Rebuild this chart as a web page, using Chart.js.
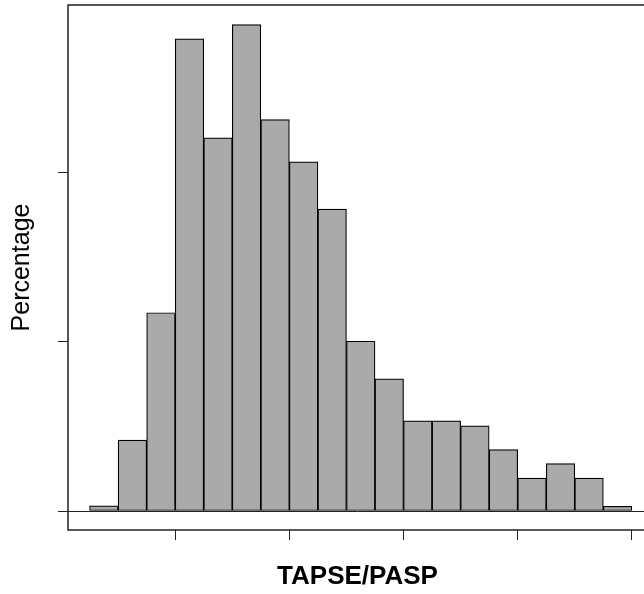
<!DOCTYPE html>
<html>
<head>
<meta charset="utf-8">
<script src="https://cdn.jsdelivr.net/npm/chart.js@4"></script>
<style>
  html, body { margin: 0; padding: 0; overflow: hidden; background: #fff; }
  canvas { display: block; }
</style>
</head>
<body>
<canvas id="myChart" width="650" height="594"></canvas>
<script>
// histogram bins (bin index of each bar's center) and their percentages
let binCenters = [0.5, 1.5, 2.5, 3.5, 4.5, 5.5, 6.5, 7.5, 8.5, 9.5, 10.5, 11.5, 12.5, 13.5, 14.5, 15.5, 16.5, 17.5, 18.5];
let percentages = [0.15, 2.09, 5.85, 13.93, 11.01, 14.35, 11.55, 10.3, 8.91, 5.01, 3.9, 2.66, 2.66, 2.51, 1.81, 0.97, 1.4, 0.97, 0.14];
// axis ticks (no labels shown)
let xTickValues = [3, 7, 11, 15, 19];
let yTickValues = [0, 5, 10];

const boxPlugin = {
  id: "box",
  afterDraw(chart) {
    const { ctx, chartArea } = chart;
    ctx.save();
    ctx.strokeStyle = "#222";
    ctx.lineWidth = 1.5;
    ctx.strokeRect(chartArea.left, chartArea.top, chartArea.right - chartArea.left, chartArea.bottom - chartArea.top);
    ctx.restore();
  },
};

const ctx = document.getElementById("myChart").getContext("2d");
const myChart = new Chart(ctx, {
  type: "bar",
  data: {
    datasets: [
      {
        data: binCenters.map((x, i) => ({ x: x, y: percentages[i] })),
        backgroundColor: "#aaaaaa",
        borderColor: "#000",
        borderWidth: 1.2,
        borderSkipped: false,
        barPercentage: 1,
        categoryPercentage: 1,
      },
    ],
  },
  options: {
    responsive: false,
    animation: false,
    layout: { padding: { top: 5, right: 3, left: 0, bottom: 0 } },
    plugins: { legend: { display: false }, tooltip: { enabled: false } },
    scales: {
      x: {
        type: "linear",
        offset: false,
        min: -0.756,
        max: 19.53,
        afterBuildTicks: (scale) => {
          scale.ticks = xTickValues.map((v) => ({ value: v }));
        },
        afterFit: (scale) => {
          scale.height = 64;
        },
        ticks: { display: false },
        border: { display: false },
        grid: {
          offset: false,
          drawOnChartArea: false,
          drawTicks: true,
          tickLength: 10,
          color: "#222",
          tickColor: "#222",
        },
        title: {
          display: true,
          text: "TAPSE/PASP",
          color: "#000",
          font: { family: "'Liberation Sans', Arial, sans-serif", size: 26, weight: "bold", lineHeight: 1 },
          padding: { top: 0, bottom: 4 },
        },
      },
      y: {
        min: -0.56,
        max: 14.93,
        afterBuildTicks: (scale) => {
          scale.ticks = yTickValues.map((v) => ({ value: v }));
        },
        afterFit: (scale) => {
          scale.width = 68;
        },
        ticks: { display: false },
        border: { display: false },
        grid: {
          drawOnChartArea: true,
          drawTicks: true,
          tickLength: 10,
          color: (c) => (c.tick && c.tick.value === 0 ? "#222" : "rgba(0,0,0,0)"),
          tickColor: "#222",
        },
        title: {
          display: true,
          text: "Percentage",
          color: "#000",
          font: { family: "'Liberation Sans', Arial, sans-serif", size: 25, lineHeight: 1 },
          padding: { top: 10, bottom: 0 },
        },
      },
    },
  },
  plugins: [boxPlugin],
});
</script>
</body>
</html>
